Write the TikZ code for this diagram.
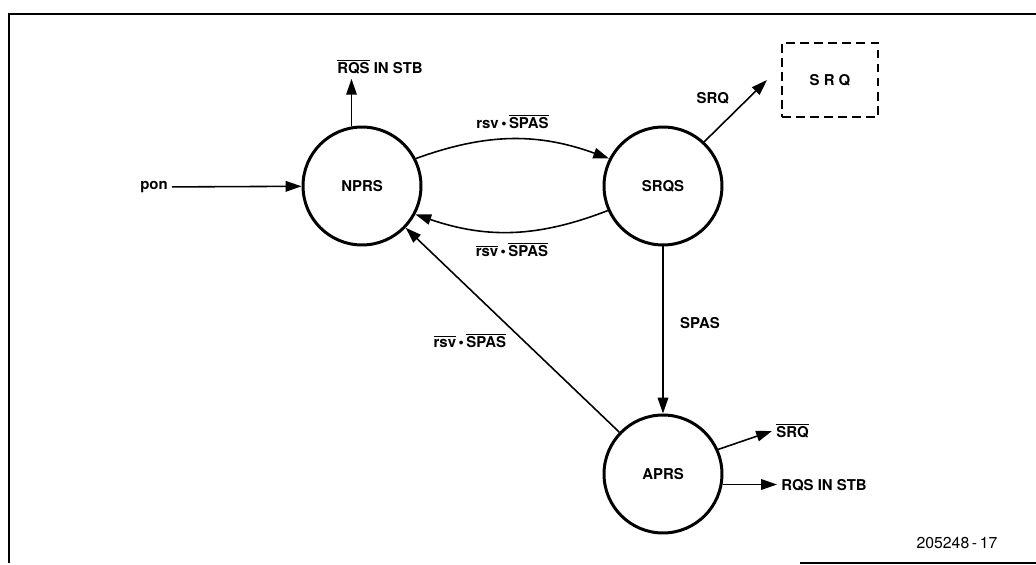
\documentclass[tikz,border=0pt]{standalone}
\usepackage{fontspec}
\setmainfont{TeX Gyre Heros}
\usetikzlibrary{arrows.meta}
\newcommand{\ovl}[1]{$\overline{\mbox{#1}}$}
\newcommand{\andsym}{\,\textbullet\,}
\begin{document}
\begin{tikzpicture}[x=0.02cm, y=-0.02cm, font=\fontsize{8.5}{10}\selectfont\bfseries,
	state/.style={circle, draw, line width=1.7pt, inner sep=0pt, minimum size=2.36cm},
	lbl/.style={inner sep=2pt},
	>={Triangle[length=9pt, width=6pt]}, line width=0.9pt]
	\useasboundingbox (0,0) rectangle (1036,565);
	% frame
	\draw[line width=1.2pt] (1036,14) -- (9,14) -- (9,563);
	\draw[line width=1.2pt] (800,563) -- (1036,563);
	% states
	\node[state] (nprs) at (362,186) {NPRS};
	\node[state] (srqs) at (663,186) {SRQS};
	\node[state] (aprs) at (663,474) {APRS};
	\node[draw, line width=1.1pt, dash pattern=on 5pt off 3pt, minimum width=1.92cm, minimum height=1.48cm] (srqbox) at (830,80) {S R Q};
	% outputs
	\node[lbl, anchor=east] (pon) at (172,187) {pon};
	\node[lbl] (rqsout) at (380,67) {\ovl{RQS} IN STB};
	\node[lbl, anchor=west] (srqbar) at (772,431) {\ovl{SRQ}};
	\node[lbl, anchor=west] (rqsstb) at (777,485) {RQS IN STB};
	\coordinate (srqtip) at (767,80);
	% transitions
	\draw[->] (pon) -- (nprs);
	\draw[->] (nprs.100) -- (nprs.100 |- rqsout.south);
	\draw[->] (nprs.27) to[bend left=20] node[midway, above=2pt] {rsv\andsym\ovl{SPAS}} (srqs.153);
	\draw[->] (srqs.204) to[bend left=20] node[midway, below=2pt] {\ovl{rsv}\andsym\ovl{SPAS}} (nprs.332);
	\draw[->] (srqs.47) -- node[midway, above left] {SRQ} (srqtip);
	\draw[->] (srqs) -- node[midway, right=6pt, yshift=4pt] {SPAS} (aprs);
	\draw[->] (aprs) -- node[pos=0.45, left=6pt] {\ovl{rsv}\andsym\ovl{SPAS}} (nprs);
	\draw[->] (aprs.24) -- (srqbar.west);
	\draw[->] (aprs.350) -- (aprs.350 -| rqsstb.west);
	\node[font=\fontsize{9}{10}\selectfont] (figno) at (957,543) {205248\,-\,17};
\end{tikzpicture}
\end{document}
